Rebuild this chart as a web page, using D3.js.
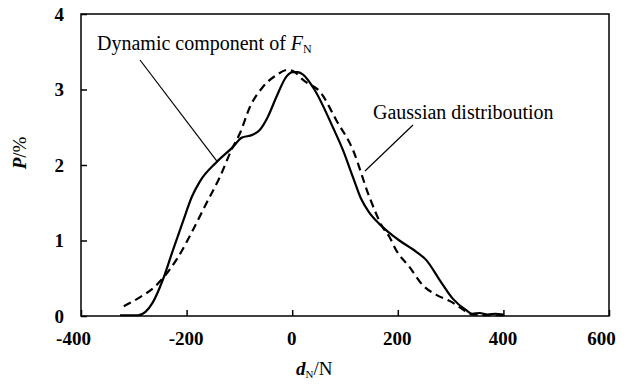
<!DOCTYPE html>
<html>
<head>
<meta charset="utf-8">
<script src="https://cdn.jsdelivr.net/npm/d3@7"></script>
<style>
    body { margin: 0; background: #fff; }
</style>
</head>
<body>
<div id="chart"></div>
<script>
// measured dynamic component (solid)
var solidX = [-326, -292, -264, -245, -226, -207, -190, -175, -143, -112, -96, -75, -62, -46, -30, -11, 1, 10, 20, 42, 77, 96, 115, 130, 145, 165, 184, 203, 235, 254, 279, 304, 329, 341, 355, 370, 385, 400];
var solidY = [0.01, 0.01, 0.18, 0.48, 0.87, 1.25, 1.58, 1.78, 2.04, 2.24, 2.36, 2.4, 2.46, 2.64, 2.9, 3.17, 3.23, 3.23, 3.2, 3.0, 2.5, 2.2, 1.84, 1.56, 1.38, 1.22, 1.1, 1.0, 0.85, 0.74, 0.48, 0.23, 0.08, 0.03, 0.04, 0.02, 0.03, 0.02];

// gaussian fit (dashed)
var dashX = [-319, -288, -260, -245, -216, -188, -162, -137, -115, -99, -80, -56, -30, -9, 5, 20, 55, 83, 115, 146, 171, 184, 197, 222, 247, 273, 298, 310, 329, 341, 370, 400];
var dashY = [0.13, 0.25, 0.39, 0.5, 0.78, 1.14, 1.5, 1.84, 2.2, 2.42, 2.77, 3.03, 3.19, 3.26, 3.23, 3.13, 2.95, 2.6, 2.2, 1.58, 1.18, 1.05, 0.87, 0.65, 0.41, 0.28, 0.2, 0.15, 0.06, 0.02, 0.01, 0.01];

var xTicks = [-400, -200, 0, 200, 400, 600];
var yTicks = [0, 1, 2, 3, 4];

var width = 634, height = 387;
var margin = {top: 14, right: 25, bottom: 71, left: 81};
var serif = "'Liberation Serif', 'DejaVu Serif', serif";

var x = d3.scaleLinear().domain([-400, 600]).range([margin.left, width - margin.right]);
var y = d3.scaleLinear().domain([0, 4]).range([height - margin.bottom, margin.top]);

var svg = d3.select('#chart')
    .append('svg')
    .attr('width', width)
    .attr('height', height)
    .attr('font-family', serif);

function styleAxis(g) {
    g.attr('font-family', serif);
    g.select('.domain').remove();
    g.selectAll('text')
        .style('font-family', serif)
        .style('font-weight', 'bold')
        .style('font-size', '19px');
    g.selectAll('line').attr('stroke-width', 1.5);
}

// axes, ticks pointing inwards
svg.append('g')
    .attr('transform', 'translate(0,' + y(0) + ')')
    .call(d3.axisBottom(x).tickValues(xTicks).tickSize(-6).tickPadding(16).tickFormat(function (d) { return String(d); }))
    .call(styleAxis)
    .call(function (g) {
        // end labels sit a little left of their ticks in the original
        g.selectAll('.tick text')
            .attr('dx', function (d) { return (d === -400 || d === 600) ? -8 : -1; });
    });

svg.append('g')
    .attr('transform', 'translate(' + x(-400) + ',0)')
    .call(d3.axisLeft(y).tickValues(yTicks).tickSize(-6).tickPadding(17).tickFormat(function (d) { return String(d); }))
    .call(styleAxis);

// frame
svg.append('rect')
    .attr('x', x(-400))
    .attr('y', y(4))
    .attr('width', x(600) - x(-400))
    .attr('height', y(0) - y(4))
    .attr('fill', 'none')
    .attr('stroke', '#000')
    .attr('stroke-width', 1.5);

var line = d3.line()
    .x(function (d) { return x(d[0]); })
    .y(function (d) { return y(d[1]); })
    .curve(d3.curveMonotoneX);

svg.append('path')
    .datum(d3.zip(dashX, dashY))
    .attr('d', line)
    .attr('fill', 'none')
    .attr('stroke', '#000')
    .attr('stroke-width', 2.2)
    .attr('stroke-dasharray', '8,5');

svg.append('path')
    .datum(d3.zip(solidX, solidY))
    .attr('d', line)
    .attr('fill', 'none')
    .attr('stroke', '#000')
    .attr('stroke-width', 2.2);

// annotations
var ann1 = svg.append('text')
    .attr('x', 97)
    .attr('y', 50)
    .style('font-family', serif)
    .style('font-size', '20px');
ann1.append('tspan').text('Dynamic component of ');
ann1.append('tspan').style('font-style', 'italic').text('F');
ann1.append('tspan').attr('dy', 3).style('font-size', '12px').text('N');

svg.append('line')
    .attr('x1', 140).attr('y1', 60)
    .attr('x2', x(-143)).attr('y2', y(2.04) - 1)
    .attr('stroke', '#000')
    .attr('stroke-width', 1.2);

svg.append('text')
    .attr('x', 373)
    .attr('y', 119)
    .style('font-family', serif)
    .style('font-size', '20px')
    .text('Gaussian distriboution');

svg.append('line')
    .attr('x1', 413).attr('y1', 125)
    .attr('x2', 365).attr('y2', 171)
    .attr('stroke', '#000')
    .attr('stroke-width', 1.2);

// axis titles
var xt = svg.append('text')
    .attr('x', 296)
    .attr('y', 375)
    .style('font-family', serif)
    .style('font-size', '19px');
xt.append('tspan').style('font-style', 'italic').style('font-weight', 'bold').text('d');
xt.append('tspan').attr('dy', 3).style('font-size', '11px').text('N');
xt.append('tspan').attr('dy', -3).text('/N');

var yt = svg.append('text')
    .attr('transform', 'translate(26,153) rotate(-90)')
    .attr('text-anchor', 'middle')
    .style('font-family', serif)
    .style('font-size', '19px');
yt.append('tspan').style('font-style', 'italic').style('font-weight', 'bold').text('P');
yt.append('tspan').text('/%');
</script>
</body>
</html>
